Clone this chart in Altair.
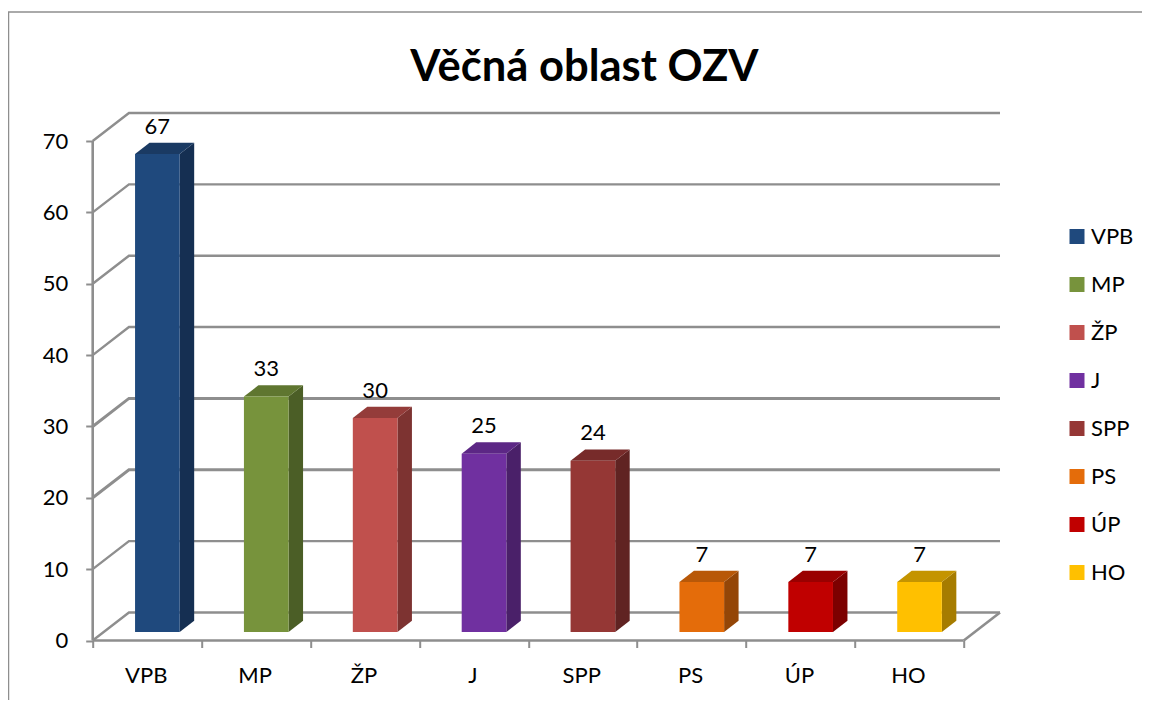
import altair as alt
import pandas as pd

categories = ["VPB", "MP", "ŽP", "J", "SPP", "PS", "ÚP", "HO"]
values = [67, 33, 30, 25, 24, 7, 7, 7]
front_colors = ["#1F497D", "#77933C", "#C0504D", "#7030A0", "#953735", "#E46C0A", "#C00000", "#FFC000"]
side_colors = ["#152F52", "#4B5E26", "#7D3331", "#4A2069", "#602322", "#944607", "#7C0000", "#A67C00"]
top_colors = ["#1A3A63", "#5F7630", "#943C3A", "#5C2785", "#772B2A", "#B85808", "#9A0000", "#C49400"]
y_ticks = [0, 10, 20, 30, 40, 50, 60, 70]
title = "Věčná oblast OZV"

GREY = "#8E8E8E"
FONT = "Lato"
W, H = 907.3, 527.5
LEFT, TOP = 84.7, 105
WALL_DX, WALL_DY = 0.333, 3.93      # depth of the chart box, in axis units
BAR_START, BAR_W = 0.389, 0.41      # bar position inside a category
BAR_BASE = 1.19                     # bars stand in the middle of the floor
BAR_DX, BAR_DY = 0.133, 1.58        # depth of a bar

xs = alt.Scale(domain=[0, 8 + WALL_DX], nice=False, zero=False)
ys = alt.Scale(domain=[0, 70 + WALL_DY], nice=False, zero=False)

# Box: gridlines on the side and back walls, floor edges
grid_rows = []
for v in y_ticks:
    sw = 3.0 if v in (20, 30) else 2.4
    grid_rows += [
        {"g": v, "sw": sw, "x": 0, "y": v},
        {"g": v, "sw": sw, "x": WALL_DX, "y": v + WALL_DY},
        {"g": v, "sw": sw, "x": 8 + WALL_DX, "y": v + WALL_DY},
    ]
grid = alt.Chart(pd.DataFrame(grid_rows)).mark_line(color=GREY).encode(
    x=alt.X("x:Q", scale=xs, title=None, axis=alt.Axis(
        values=list(range(9)), domain=False, grid=False, tickColor=GREY, tickWidth=2, tickSize=7,
        labelExpr="[" + ",".join(f"'{c}'" for c in categories) + "][datum.value] || ''",
        labelOffset=53, labelFont=FONT, labelFontSize=22, labelColor="#000000", labelPadding=18,
        labelFlush=False, labelOverlap=False, labelBound=False)),
    y=alt.Y("y:Q", scale=ys, title=None, axis=alt.Axis(
        values=y_ticks, domain=False, grid=False, tickColor=GREY, tickWidth=2, tickSize=7,
        labelFont=FONT, labelFontSize=22, labelColor="#000000", labelPadding=18,
        labelOverlap=False, labelBound=False)),
    detail="g:N",
    strokeWidth=alt.StrokeWidth("sw:Q", scale=None),
)

edge_df = pd.DataFrame([
    {"g": "front", "x": 0, "y": 0}, {"g": "front", "x": 8, "y": 0},
    {"g": "right", "x": 8, "y": 0}, {"g": "right", "x": 8 + WALL_DX, "y": WALL_DY},
    {"g": "left", "x": 0, "y": 0}, {"g": "left", "x": 0, "y": 70},
])
edges = alt.Chart(edge_df).mark_line(color=GREY, strokeWidth=2.6).encode(
    x=alt.X("x:Q", scale=xs), y=alt.Y("y:Q", scale=ys), detail="g:N", order="y:Q")

# Bars
bars = pd.DataFrame({"cat": categories, "v": values, "front": front_colors,
                     "side": side_colors, "topc": top_colors})
bars["order"] = range(len(bars))
bars["l"] = bars["order"] + BAR_START
bars["r"] = bars["l"] + BAR_W
bars["b"] = BAR_BASE
bars["t"] = bars["v"] + BAR_BASE

side_rows, top_rows = [], []
for _, r in bars.iterrows():
    for k in (0, 1):
        side_rows.append({"cat": r["cat"], "fill": r["side"], "x": r["r"] + k * BAR_DX,
                          "y": r["b"] + k * BAR_DY, "y2": r["t"] + k * BAR_DY})
        top_rows.append({"cat": r["cat"], "fill": r["topc"], "x": r["l"] + k * BAR_DX,
                         "x2": r["r"] + k * BAR_DX, "y": r["t"] + k * BAR_DY})

side = alt.Chart(pd.DataFrame(side_rows)).mark_area(opacity=1).encode(
    x=alt.X("x:Q", scale=xs), y=alt.Y("y:Q", scale=ys), y2="y2:Q",
    fill=alt.Fill("fill:N", scale=None), detail="cat:N")
top = alt.Chart(pd.DataFrame(top_rows)).mark_area(orient="horizontal", opacity=1).encode(
    y=alt.Y("y:Q", scale=ys), x=alt.X("x:Q", scale=xs), x2="x2:Q",
    fill=alt.Fill("fill:N", scale=None), detail="cat:N")
front = alt.Chart(bars).mark_rect().encode(
    x=alt.X("l:Q", scale=xs), x2="r:Q",
    y=alt.Y("b:Q", scale=ys), y2="t:Q",
    color=alt.Color("cat:N", scale=alt.Scale(domain=categories, range=front_colors), sort=categories,
                    legend=alt.Legend(title=None, orient="none", legendX=973.3, legendY=112.5,
                                      symbolType="square", symbolSize=225, symbolStrokeWidth=0,
                                      labelFont=FONT, labelFontSize=22, labelColor="#000000",
                                      labelOffset=3, rowPadding=26, padding=0)),
)

bars["lx"] = bars["l"] + BAR_W / 2
bars["ly"] = bars["t"] + BAR_DY
labels = alt.Chart(bars).mark_text(font=FONT, fontSize=22, color="#000000", baseline="middle", dy=-16).encode(
    x=alt.X("lx:Q", scale=xs), y=alt.Y("ly:Q", scale=ys), text="v:Q")

# Outer chart frame, running off the picture on the right and at the bottom
frame_top = alt.Chart(pd.DataFrame({"a": [0]})).mark_rule(color=GREY, strokeWidth=1.5).encode(
    x=alt.value(-LEFT), x2=alt.value(W + 160), y=alt.value(12 - 8 - TOP))
frame_left = alt.Chart(pd.DataFrame({"a": [0]})).mark_rule(color=GREY, strokeWidth=1.5).encode(
    x=alt.value(-LEFT + 0.5), y=alt.value(12 - 8 - TOP), y2=alt.value(H + 80))

chart = alt.layer(grid, edges, side, top, front, labels, frame_top, frame_left).properties(
    width=W, height=H,
    padding={"left": LEFT, "top": TOP, "right": 1134 - LEFT - W, "bottom": 692 - TOP - H},
    autosize=alt.AutoSizeParams(type="none"),
    title=alt.TitleParams(title, font=FONT, fontSize=43.5, fontWeight="bold", color="#000000",
                          anchor="middle", frame="group", dx=38, offset=-113, baseline="alphabetic"),
).configure_view(stroke=None)

chart.save("out.html", embed_options={"renderer": "svg", "actions": False})
